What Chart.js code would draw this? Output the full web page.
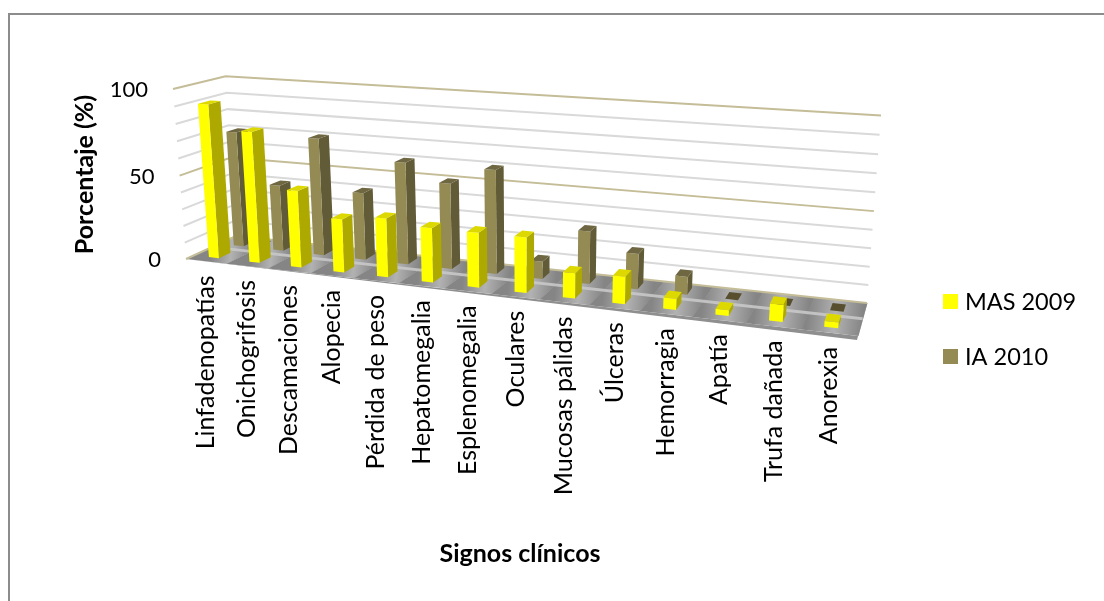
<!DOCTYPE html>
<html>
<head>
<meta charset="utf-8">
<style>
  html, body { margin: 0; padding: 0; background: #fff; overflow: hidden; }
  #wrap { position: relative; width: 1104px; height: 601px; overflow: hidden; }
  #frame { position: absolute; left: 8px; top: 13px; width: 1200px; height: 700px; border: 2px solid #8c8c8c; box-sizing: border-box; }
  canvas { position: absolute; left: 0; top: 0; }
</style>
</head>
<body>
<div id="wrap">
  <div id="frame"></div>
  <canvas id="chart" width="1104" height="601"></canvas>
</div>
<script src="https://cdn.jsdelivr.net/npm/chart.js@4/dist/chart.umd.min.js"></script>
<script>
const categories = ['Linfadenopatías', 'Onichogrifosis', 'Descamaciones', 'Alopecia', 'Pérdida de peso',
  'Hepatomegalia', 'Esplenomegalia', 'Oculares', 'Mucosas pálidas', 'Úlceras', 'Hemorragia', 'Apatía',
  'Trufa dañada', 'Anorexia'];
const mas2009 = [91, 77, 45, 31, 34, 31, 31, 31, 14, 15, 6, 3, 9, 3];
const ia2010 = [70, 40, 70, 40, 60, 50, 60, 10, 30, 20, 10, 0, 0, 0];

const FONT = 'Lato, Carlito, Calibri, sans-serif';

// floor corners and the point where the bar edges converge, in page pixels
const floorFL = [186, 259], floorFR = [858, 336], floorBR = [867, 303], floorBL = [236, 236];
const vertVP = [532, 4779];
const topFL = [173, 89];

// series position along the depth of the floor
const depthStart = [0.15, 0.65];
const depthSize = 0.23;

const faces = [
  { front: '#ffff00', side: '#aea900', top: '#dcd800' },
  { front: '#948a54', side: '#625b37', top: '#6e6741' }
];

// unit square to quad, Heckbert's closed form
function squareToQuad(p00, p10, p11, p01) {
  const dx1 = p10[0] - p11[0], dx2 = p01[0] - p11[0], sx = p00[0] - p10[0] + p11[0] - p01[0];
  const dy1 = p10[1] - p11[1], dy2 = p01[1] - p11[1], sy = p00[1] - p10[1] + p11[1] - p01[1];
  const den = dx1 * dy2 - dx2 * dy1;
  const g = (sx * dy2 - dx2 * sy) / den;
  const h = (dx1 * sy - sx * dy1) / den;
  return {
    u: [p10[0] - p00[0] + g * p10[0], p10[1] - p00[1] + g * p10[1], g],
    d: [p01[0] - p00[0] + h * p01[0], p01[1] - p00[1] + h * p01[1], h],
    o: [p00[0], p00[1], 1]
  };
}

const H = squareToQuad(floorFL, floorFR, floorBR, floorBL);
const beta = (H.o[1] - topFL[1] * H.o[2]) / (topFL[1] - vertVP[1]);
const vCol = [beta * vertVP[0], beta * vertVP[1], beta];

// u along the categories, v up the value axis, d into the floor, all 0..1
function project(u, v, d) {
  const w = u * H.u[2] + d * H.d[2] + H.o[2] + v * vCol[2];
  return [
    (u * H.u[0] + d * H.d[0] + H.o[0] + v * vCol[0]) / w,
    (u * H.u[1] + d * H.d[1] + H.o[1] + v * vCol[1]) / w
  ];
}

function poly(ctx, pts, fill) {
  ctx.beginPath();
  pts.forEach((p, i) => (i ? ctx.lineTo(p[0], p[1]) : ctx.moveTo(p[0], p[1])));
  ctx.closePath();
  ctx.fillStyle = fill;
  ctx.fill();
}

function line(ctx, a, b, color, width) {
  ctx.beginPath();
  ctx.moveTo(a[0], a[1]);
  ctx.lineTo(b[0], b[1]);
  ctx.strokeStyle = color;
  ctx.lineWidth = width;
  ctx.stroke();
}

const perspective = {
  id: 'perspective',
  beforeDatasetsDraw(chart) {
    const { ctx, scales: { x, y } } = chart;
    const toV = val => (y.bottom - y.getPixelForValue(val)) / (y.bottom - y.top);
    ctx.save();

    // walls: gridlines run along the side wall and the back wall
    y.ticks.forEach(t => {
      if (t.value === 0) return;
      const v = toV(t.value);
      const a = project(0, v, 0), b = project(0, v, 1), c = project(1, v, 1);
      ctx.beginPath();
      ctx.moveTo(a[0], a[1]);
      ctx.lineTo(b[0], b[1]);
      ctx.lineTo(c[0], c[1]);
      ctx.strokeStyle = t.value % 50 === 0 ? '#c4bd97' : '#d9d9d9';
      ctx.lineWidth = 2;
      ctx.stroke();
    });

    // floor slab edge
    const drop = 4;
    const fl = project(0, 0, 0), fr = project(1, 0, 0), br = project(1, 0, 1);
    poly(ctx, [fl, fr, [fr[0] - 1, fr[1] + drop], [fl[0] + 8, fl[1] + 1]], '#8f8f8f');
    poly(ctx, [fr, br, [br[0], br[1] + 1], [fr[0] - 1, fr[1] + drop]], '#7f7f7f');

    // floor tiles, darker towards the boundary between categories
    const n = categories.length;
    for (let i = 0; i < n; i++) {
      const u0 = i / n, u1 = (i + 1) / n;
      const a = project(u0, 0, 0), b = project(u1, 0, 0), c = project(u1, 0, 1), e = project(u0, 0, 1);
      const m0 = project(u0, 0, 0.5), m1 = project(u1, 0, 0.5);
      const g = ctx.createLinearGradient(m0[0], m0[1], m1[0], m1[1]);
      g.addColorStop(0, '#858585');
      g.addColorStop(0.5, '#b2b2b2');
      g.addColorStop(1, '#858585');
      // small overlap so no seam shows between neighbouring tiles
      poly(ctx, [a, [b[0] + 0.5, b[1]], [c[0] + 0.5, c[1]], e], g);
    }
    line(ctx, project(0, 0, 0.5), project(1, 0, 0.5), 'rgba(200,200,200,0.9)', 3);
    line(ctx, project(0, 0, 1), project(1, 0, 1), '#c4bd97', 2);
    line(ctx, project(0, 0, 0), project(0, 0, 1), '#c4bd97', 2);

    // bars, back series first so the front one overlaps it
    [1, 0].forEach(ds => {
      const meta = chart.getDatasetMeta(ds);
      const f = faces[ds];
      meta.data.forEach((bar, i) => {
        const uL = (bar.x - bar.width / 2 - x.left) / x.width;
        const uR = (bar.x + bar.width / 2 - x.left) / x.width;
        const vT = toV(chart.data.datasets[ds].data[i]);
        const d0 = depthStart[ds], d1 = d0 + depthSize;
        if (vT > 0) {
          poly(ctx, [project(uR, 0, d0), project(uR, 0, d1), project(uR, vT, d1), project(uR, vT, d0)], f.side);
          poly(ctx, [project(uL, 0, d0), project(uR, 0, d0), project(uR, vT, d0), project(uL, vT, d0)], f.front);
        }
        poly(ctx, [project(uL, vT, d0), project(uR, vT, d0), project(uR, vT, d1), project(uL, vT, d1)], vT > 0 ? f.top : '#574f2e');
      });
    });

    // value labels follow the front edge of the side wall
    ctx.fillStyle = '#000';
    ctx.font = '400 22px ' + FONT;
    ctx.textAlign = 'right';
    ctx.textBaseline = 'middle';
    y.ticks.forEach(t => {
      if (t.value % 50 !== 0) return;
      const p = project(0, toV(t.value), 0);
      ctx.fillText(String(t.value), p[0] - 25, p[1] + 1);
    });

    // category labels, rotated, hanging off the floor's front edge
    ctx.font = '400 25px ' + FONT;
    categories.forEach((name, i) => {
      const p = project((i + 0.5) / n, 0, 0);
      ctx.save();
      ctx.translate(p[0], p[1] + 14);
      ctx.rotate(-Math.PI / 2);
      ctx.fillText(name, 0, 0);
      ctx.restore();
    });

    // series key
    ctx.textAlign = 'left';
    ctx.font = '400 23.5px ' + FONT;
    chart.data.datasets.forEach((ds, i) => {
      const ky = 302 + i * 55;
      ctx.fillStyle = ds.backgroundColor;
      ctx.fillRect(943, ky - 8, 15, 15);
      ctx.fillStyle = '#000';
      ctx.fillText(ds.label, 965, ky);
    });

    ctx.restore();
    return false;
  }
};

new Chart(document.getElementById('chart'), {
  type: 'bar',
  data: {
    labels: categories,
    datasets: [
      { label: 'MAS 2009', data: mas2009, backgroundColor: '#ffff00' },
      { label: 'IA 2010', data: ia2010, backgroundColor: '#948a54' }
    ]
  },
  options: {
    responsive: false,
    animation: false,
    grouped: false,
    barPercentage: 0.5,
    categoryPercentage: 0.5,
    layout: { padding: { left: 70, right: 258, top: 98, bottom: 32 } },
    plugins: { legend: { display: false }, tooltip: { enabled: false } },
    scales: {
      x: {
        grid: { display: false },
        border: { display: false },
        ticks: { display: false },
        title: {
          display: true,
          text: 'Signos clínicos',
          color: '#000',
          font: { family: FONT, size: 25, weight: 'bold' },
          padding: { top: 280, bottom: 0 }
        }
      },
      y: {
        min: 0,
        max: 100,
        grid: { display: false },
        border: { display: false },
        ticks: { display: false, stepSize: 10 },
        title: {
          display: true,
          text: 'Porcentaje (%)',
          color: '#000',
          font: { family: FONT, size: 25, weight: 'bold' },
          padding: { top: 0, bottom: 86 }
        }
      }
    }
  },
  plugins: [perspective]
});
</script>
</body>
</html>
